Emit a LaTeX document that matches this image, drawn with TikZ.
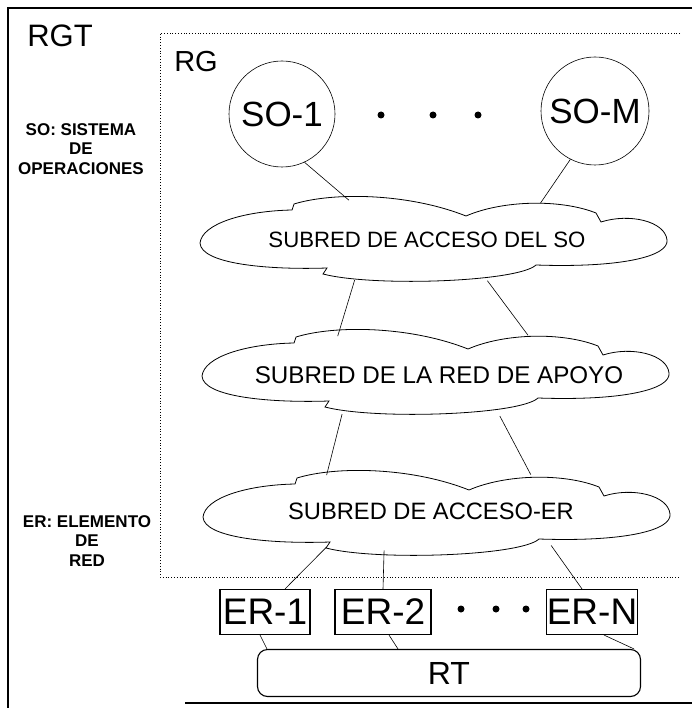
\documentclass[tikz,border=0pt]{standalone}
\usepackage{fontspec}
\setmainfont{Liberation Sans}
\usepackage{tikz}
\usetikzlibrary{shapes.geometric}

\tikzset{pics/nube/.style={code={
    \draw[line width=0.8pt] (-233,3) .. controls (-231,-16) and (-190,-29) .. (-141,-30)
        -- (-139,-36) .. controls (-100,-48) and (-25,-47) .. (33,-24)
        .. controls (70,-40) and (128,-41) .. (163,-27)
        -- (168,-18) .. controls (196,-27) and (232,-19) .. (234,0)
        .. controls (236,16) and (190,28) .. (103,25)
        .. controls (85,42) and (-60,47) .. (-110,34)
        -- (-106,28) .. controls (-165,30) and (-232,24) .. (-233,3) -- cycle;
}}}

\begin{document}
\begin{tikzpicture}[x=1pt,y=-1pt,
    subred/.style={ellipse, inner sep=0pt, minimum width=466pt, minimum height=84pt},
    so/.style={circle, draw, line width=0.6pt, minimum size=106pt, inner sep=0pt,
      font=\fontsize{35}{40}\selectfont},
    er/.style={rectangle, draw, line width=1.1pt, inner sep=0pt, minimum height=45pt,
      font=\fontsize{37}{40}\selectfont},
    punto/.style={circle, fill, inner sep=0pt, minimum size=7pt},
    nota/.style={align=center, font=\bfseries\fontsize{17}{19.5}\selectfont},
    enlace/.style={line width=0.6pt}]
            \useasboundingbox (0,0) rectangle (692,708);

            \draw[line width=1.2pt] (692,8) -- (8,8) -- (8,708);
            \draw[line width=1.2pt] (185,703) -- (692,703);
            \draw[dotted, line width=0.8pt] (680,33) -- (160,33) -- (160,577) -- (680,577);

            \node[font=\fontsize{31}{34}\selectfont] (rgt) at (60,36) {RGT};
            \node[font=\fontsize{29}{32}\selectfont] (rg) at (196,62) {RG};

            \node[nota] (notaso) at (81,149) {SO: SISTEMA\\DE\\OPERACIONES};
            \node[nota] (notaer) at (87,541) {ER: ELEMENTO\\DE\\RED};

            \node[so] (so1) at (282,114) {SO-1};
            \node[so, minimum size=108pt] (som) at (595,111) {SO-M};
            \foreach \x [count=\i] in {381,433,478}
                \node[punto] (ps\i) at (\x,115) {};

            \pic at (433,240) {nube};
            \pic at (435,373) {nube};
            \pic at (436,514) {nube};
            \node[subred, font=\fontsize{22.2}{25}\selectfont] (sub1) at (427,240) {SUBRED DE ACCESO DEL SO};
            \node[subred, font=\fontsize{24.2}{27}\selectfont] (sub2) at (439,375) {SUBRED DE LA RED DE APOYO};
            \node[subred, minimum height=80pt, font=\fontsize{23.7}{26}\selectfont] (sub3) at (431,511) {SUBRED DE ACCESO-ER};

            \node[er, minimum width=90pt] (er1) at (265,612) {ER-1};
            \node[er, minimum width=96pt] (er2) at (383,612) {ER-2};
            \node[er, minimum width=88pt] (ern) at (592,612) {ER-N};
            \foreach \x [count=\i] in {461,496,526}
                \node[punto] (pe\i) at (\x,609) {};

            \node[draw, line width=1.1pt, rounded corners=10pt, minimum width=383pt, minimum height=47pt,
                  font=\fontsize{32}{35}\selectfont] (rt) at (449,673) {RT};

            \draw[enlace] (so1.-65) -- (sub1.153);
            \draw[enlace] (som.-117) -- (sub1.18);
            \draw[enlace] (sub1.-151) -- (sub2.159);
            \draw[enlace] (sub1.-34) -- (sub2.24);
            \draw[enlace] (sub2.-158) -- (sub3.161);
            \draw[enlace] (sub2.-34) -- (sub3.20);
            \draw[enlace] (sub3.-161) -- ([xshift=20pt]er1.north);
            \draw[enlace] (sub3.-140) -- (er2.north);
            \draw[enlace] (sub3.-16) -- ([xshift=-10pt]ern.north);
            \draw[enlace] ([xshift=-5pt]er1.south) -- ([xshift=10pt]rt.north west);
            \draw[enlace] ([xshift=6pt]er2.south) -- ([xshift=-51pt]rt.north);
            \draw[enlace] ([xshift=12pt]ern.south) -- ([xshift=-7pt]rt.north east);
\end{tikzpicture}
\end{document}
